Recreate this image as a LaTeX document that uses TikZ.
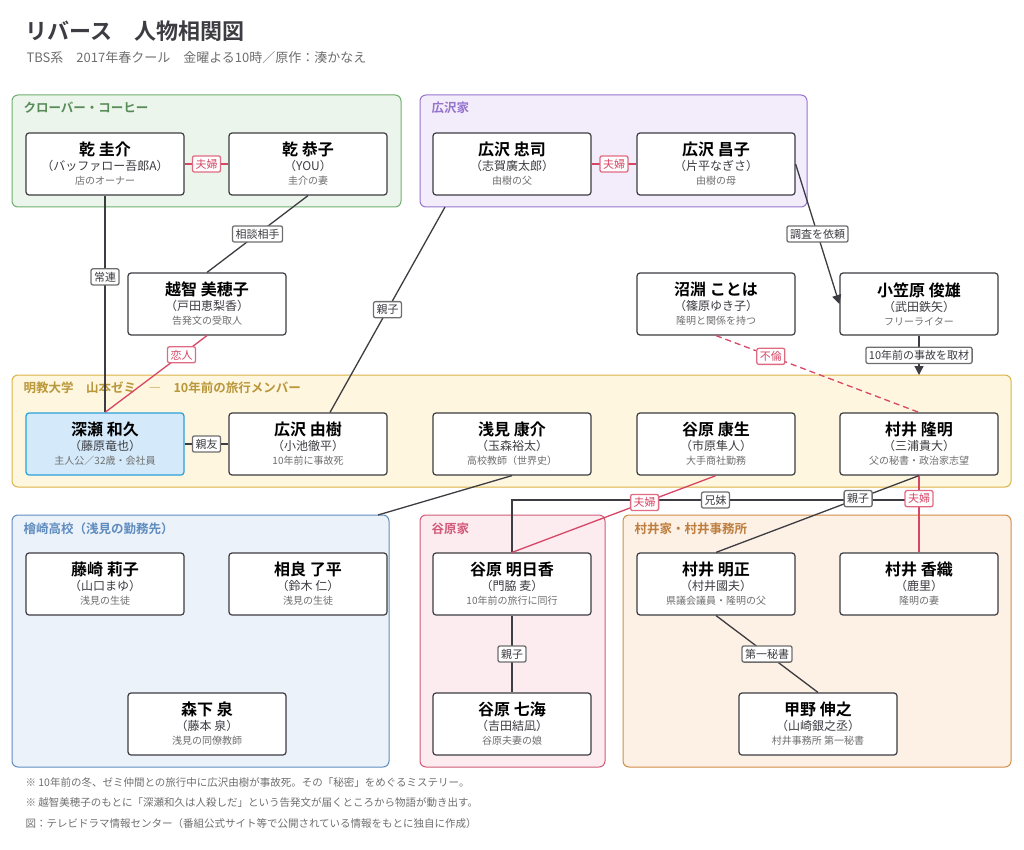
\documentclass[tikz,border=0pt]{standalone}
\usepackage{fontspec}
\setmainfont{Noto Sans CJK JP}[BoldFont={Noto Sans CJK JP Bold}]
\usetikzlibrary{arrows.meta,calc,positioning}
\definecolor{inkgray}{RGB}{60,60,66}
\definecolor{subgray}{RGB}{110,110,110}
\definecolor{clovergreen}{RGB}{110,175,110}
\definecolor{cloverfill}{RGB}{236,245,236}
\definecolor{hiropurple}{RGB}{150,115,205}
\definecolor{hirofill}{RGB}{243,237,251}
\definecolor{semiyellow}{RGB}{218,178,70}
\definecolor{semifill}{RGB}{254,246,222}
\definecolor{schoolblue}{RGB}{95,140,190}
\definecolor{schoolfill}{RGB}{236,242,250}
\definecolor{tanipink}{RGB}{210,90,120}
\definecolor{tanifill}{RGB}{252,236,240}
\definecolor{muraiorange}{RGB}{210,140,70}
\definecolor{muraifill}{RGB}{253,240,228}
\definecolor{heroblue}{RGB}{40,160,220}
\definecolor{herofill}{RGB}{212,234,250}
\definecolor{loveRed}{RGB}{215,70,100}
\newcommand{\who}[3]{{\fontsize{16}{18}\selectfont\bfseries #1}\\[3pt]
  {\fontsize{12}{14}\selectfont\color{inkgray}（#2）}\\[2pt]
  {\fontsize{10}{14}\selectfont\color{subgray}#3}}

\begin{document}
\begin{tikzpicture}[x=1pt,y=-1pt,
  group/.style={draw, rounded corners=6pt, line width=1pt},
  grouptitle/.style={anchor=west, font=\fontsize{12.5}{14}\selectfont\bfseries},
  person/.style={draw=inkgray, fill=white, rounded corners=3pt, line width=1.2pt,
                 minimum width=158pt, minimum height=62pt, align=center, inner sep=1pt},
  rel/.style={inkgray, line width=1.3pt},
  love/.style={loveRed, line width=1.3pt},
  lbl/.style={draw=subgray, fill=white, solid, rounded corners=2pt, inner sep=3pt,
              font=\fontsize{11}{12}\selectfont, text=inkgray},
  lovelbl/.style={lbl, draw=loveRed!80, text=loveRed},
  arr/.style={-{Triangle[length=9pt,width=9pt]}, rel}
]
\useasboundingbox (0,0) rectangle (1024,850);

% title
\node[anchor=west, font=\fontsize{22}{26}\selectfont\bfseries, text=inkgray] (title) at (22,31) {リバース　人物相関図};
\node[anchor=west, font=\fontsize{13}{15}\selectfont, text=subgray] (subtitle) at (23,58) {TBS系　2017年春クール　金曜よる10時／原作：湊かなえ};

% groups
\draw[group, draw=clovergreen, fill=cloverfill] (12,95) rectangle (401,207);
\node[grouptitle, text=clovergreen!80!black] at (20,108) {クローバー・コーヒー};
\draw[group, draw=hiropurple, fill=hirofill] (420,95) rectangle (807,207);
\node[grouptitle, text=hiropurple] at (428,108) {広沢家};
\coordinate (hirobase) at (445,207);
\draw[group, draw=semiyellow, fill=semifill] (12,375) rectangle (1011,487);
\node[grouptitle, text=semiyellow!85!black] at (20,388) {明教大学　山本ゼミ　―　10年前の旅行メンバー};
\coordinate (semitop) at (919,375);
\draw[group, draw=schoolblue, fill=schoolfill] (12,515) rectangle (389,767);
\node[grouptitle, text=schoolblue] at (20,529) {檜崎高校（浅見の勤務先）};
\coordinate (schooltop) at (378,515);
\draw[group, draw=tanipink, fill=tanifill] (420,515) rectangle (605,767);
\node[grouptitle, text=tanipink] at (428,529) {谷原家};
\draw[group, draw=muraiorange, fill=muraifill] (623,515) rectangle (1011,767);
\node[grouptitle, text=muraiorange!90!black] at (631,529) {村井家・村井事務所};

% people
\node[person] (keisuke) at (105,164) {\who{乾 圭介}{バッファロー吾郎A}{店のオーナー}};
\node[person] (kyoko) at (308,164) {\who{乾 恭子}{YOU}{圭介の妻}};
\node[person] (tadashi) at (512,164) {\who{広沢 忠司}{志賀廣太郎}{由樹の父}};
\node[person] (akiko) at (716,164) {\who{広沢 昌子}{片平なぎさ}{由樹の母}};
\node[person] (mihoko) at (207,304) {\who{越智 美穂子}{戸田恵梨香}{告発文の受取人}};
\node[person] (kotoha) at (716,304) {\who{沼淵 ことは}{篠原ゆき子}{隆明と関係を持つ}};
\node[person] (ogasawara) at (919,304) {\who{小笠原 俊雄}{武田鉄矢}{フリーライター}};
\node[person, draw=heroblue, fill=herofill] (fukase) at (105,444) {\who{深瀬 和久}{藤原竜也}{主人公／32歳・会社員}};
\node[person] (yuki) at (308,444) {\who{広沢 由樹}{小池徹平}{10年前に事故死}};
\node[person] (asami) at (512,444) {\who{浅見 康介}{玉森裕太}{高校教師（世界史）}};
\node[person] (yasuo) at (716,444) {\who{谷原 康生}{市原隼人}{大手商社勤務}};
\node[person] (takaaki) at (919,444) {\who{村井 隆明}{三浦貴大}{父の秘書・政治家志望}};
\node[person] (riko) at (105,584) {\who{藤崎 莉子}{山口まゆ}{浅見の生徒}};
\node[person] (ryohei) at (308,584) {\who{相良 了平}{鈴木 仁}{浅見の生徒}};
\node[person] (asuka) at (512,584) {\who{谷原 明日香}{門脇 麦}{10年前の旅行に同行}};
\node[person] (akimasa) at (716,584) {\who{村井 明正}{村井國夫}{県議会議員・隆明の父}};
\node[person] (kaori) at (919,584) {\who{村井 香織}{鹿里}{隆明の妻}};
\node[person] (izumi) at (207,724) {\who{森下 泉}{藤本 泉}{浅見の同僚教師}};
\node[person] (nanami) at (512,724) {\who{谷原 七海}{吉田結凪}{谷原夫妻の娘}};
\node[person] (kono) at (818,724) {\who{甲野 伸之}{山崎銀之丞}{村井事務所 第一秘書}};

% relations
\draw[love] (keisuke) -- (kyoko) node[midway, lovelbl] {夫婦};
\draw[love] (tadashi) -- (akiko) node[midway, lovelbl] {夫婦};
\draw[rel] (keisuke.south) -- (fukase.north) node[pos=0.375, lbl] {常連};
\draw[rel] (kyoko.south) -- (mihoko.north) node[pos=0.5, lbl] {相談相手};
\draw[love] (mihoko.south) -- (fukase.north) node[pos=0.25, lovelbl] {恋人};
\draw[rel] ([xshift=22pt]yuki.north) -- (hirobase) node[pos=0.5, lbl] {親子};
\draw[arr] (akiko.east) -- (ogasawara.west) node[midway, lbl] {調査を依頼};
\draw[arr] (ogasawara.south) -- (semitop) node[midway, lbl] {10年前の事故を取材};
\draw[love, dash pattern=on 6pt off 4pt] (kotoha.south) -- (takaaki.north) node[pos=0.27, lovelbl] {不倫};
\draw[rel] (fukase) -- (yuki) node[midway, lbl] {親友};
\draw[rel] (asami.south) -- (schooltop);
\coordinate (sibling) at (919,500);
\draw[rel] (asuka.north) |- (sibling) node[pos=0.75, lbl] {兄妹};
\draw[love] (yasuo.south) -- (asuka.north) node[pos=0.35, lovelbl] {夫婦};
\draw[rel] (takaaki.south) -- (akimasa.north) node[pos=0.3, lbl] {親子};
\draw[love] (takaaki.south) -- (kaori.north) node[pos=0.3, lovelbl] {夫婦};
\draw[rel] (asuka) -- (nanami) node[midway, lbl] {親子};
\draw[rel] (akimasa.south) -- (kono.north) node[midway, lbl] {第一秘書};

% notes
\node[anchor=west, font=\fontsize{10.5}{12}\selectfont, text=subgray] (note1) at (22,783) {※ 10年前の冬、ゼミ仲間との旅行中に広沢由樹が事故死。その「秘密」をめぐるミステリー。};
\node[anchor=west, font=\fontsize{10.5}{12}\selectfont, text=subgray] (note2) at (22,803) {※ 越智美穂子のもとに「深瀬和久は人殺しだ」という告発文が届くところから物語が動き出す。};
\node[anchor=west, font=\fontsize{10.5}{12}\selectfont, text=subgray] (note3) at (22,823) {図：テレビドラマ情報センター（番組公式サイト等で公開されている情報をもとに独自に作成）};
\end{tikzpicture}
\end{document}
